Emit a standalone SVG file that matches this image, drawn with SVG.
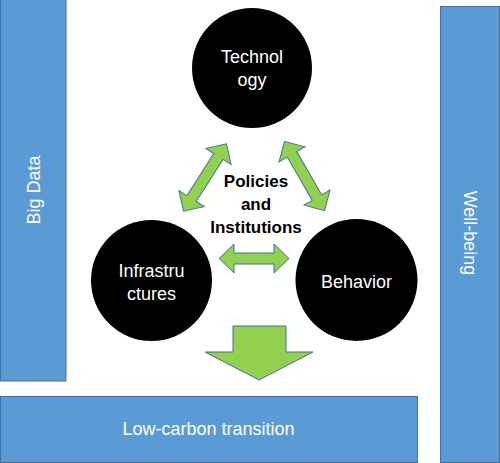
<svg xmlns="http://www.w3.org/2000/svg" width="500" height="463" viewBox="0 0 500 463">
<style>
.bar{fill:#5B9BD5;stroke:#41719C;stroke-width:1}
.circ{fill:#000}
.arr{fill:#92D050;stroke:#41719C;stroke-width:1;stroke-linejoin:miter}
.wt{font-family:"Liberation Sans",Arial,sans-serif;font-size:18px;fill:#fff;text-anchor:middle}
.bt{font-family:"Liberation Sans",Arial,sans-serif;font-size:17px;font-weight:bold;fill:#000;text-anchor:middle}
</style>
<defs>
<path id="dbl" d="M-40,0 L-25,-15 L-25,-5.5 L25,-5.5 L25,-15 L40,0 L25,15 L25,5.5 L-25,5.5 L-25,15 Z"/>
</defs>
<rect width="500" height="463" fill="#fff"/>
<g id="big-data">
<rect class="bar" x="0.5" y="-1" width="65.5" height="382"/>
<text class="wt" transform="translate(40,190) rotate(-90)">Big Data</text>
</g>
<g id="well-being">
<rect class="bar" x="440.5" y="6.5" width="59" height="456"/>
<text class="wt" transform="translate(464,233) rotate(90)">Well-being</text>
</g>
<g id="low-carbon">
<rect class="bar" x="0.5" y="396.5" width="417" height="66"/>
<text class="wt" x="208.5" y="435">Low-carbon transition</text>
</g>
<g id="technology">
<circle class="circ" cx="252" cy="68" r="60"/>
<text class="wt" x="252" y="63">Technol</text>
<text class="wt" x="252" y="86">ogy</text>
</g>
<g id="infrastructures">
<circle class="circ" cx="151.5" cy="280.5" r="60.5"/>
<text class="wt" x="151.5" y="277">Infrastru</text>
<text class="wt" x="151.5" y="300">ctures</text>
</g>
<g id="behavior">
<circle class="circ" cx="356.5" cy="280" r="61"/>
<text class="wt" x="356.5" y="288">Behavior</text>
</g>
<g id="policies">
<text class="bt" x="256" y="187">Policies</text>
<text class="bt" x="256" y="210">and</text>
<text class="bt" x="256" y="233">Institutions</text>
</g>
<g id="connectors">
<use href="#dbl" class="arr" transform="translate(205,177.5) rotate(-57.5)"/>
<use href="#dbl" class="arr" transform="translate(304.5,176) rotate(60)"/>
<path class="arr" d="M219,258.5 L234,244 L234,253 L274,253 L274,244 L289,258.5 L274,273 L274,264 L234,264 L234,273 Z"/>
<path class="arr" d="M233,326 L286,326 L286,352 L313,352 L259,380 L205,352 L233,352 Z"/>
</g>
</svg>
